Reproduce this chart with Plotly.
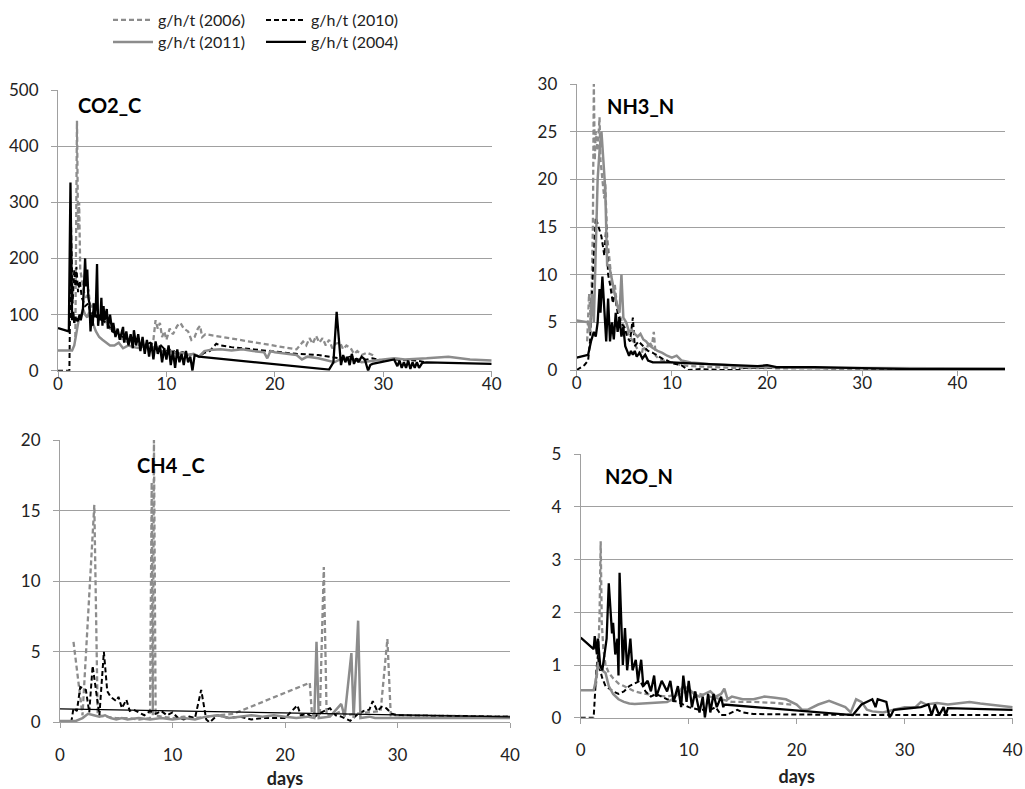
import plotly.graph_objects as go

# ---------------- DATA ----------------
series_names = ["g/h/t (2006)", "g/h/t (2010)", "g/h/t (2011)", "g/h/t (2004)"]
x_ticks = [0, 10, 20, 30, 40]

# CO2_C
co2_2006_x = [1.6, 1.75, 1.85, 1.95, 2.05, 2.2, 2.4, 2.6, 2.8, 3.0, 3.3, 3.6, 4.0, 4.4, 4.8, 5.2, 5.6, 6.0, 6.5, 7.0, 7.5, 8.0, 8.5, 8.8, 9.0, 9.2, 9.4, 9.6, 9.8, 10.0, 10.3, 10.6, 11.0, 11.3, 11.6, 12.0, 12.3, 12.6, 12.9, 13.1, 13.3, 13.6, 22.0, 22.3, 22.6, 22.9, 23.2, 23.5, 23.8, 24.1, 24.4, 24.7, 25.0, 25.3, 25.6, 26.0, 26.3, 26.6, 27.0, 27.3, 27.6, 28.0, 28.5, 29.0, 29.3]
co2_2006_y = [60, 445, 250, 300, 180, 160, 140, 130, 145, 110, 120, 100, 95, 85, 75, 70, 60, 55, 50, 55, 45, 50, 40, 55, 90, 75, 85, 60, 70, 55, 75, 65, 80, 85, 75, 70, 55, 60, 75, 80, 60, 65, 38, 45, 52, 45, 58, 48, 62, 50, 58, 45, 55, 40, 48, 50, 38, 45, 40, 30, 35, 28, 32, 28, 25]
co2_2010_x = [0, 1.05, 1.2, 1.35, 1.5, 1.6, 1.7, 1.85, 2.0, 2.2, 2.5, 2.8, 3.0, 3.3, 3.6, 4.0, 4.5, 5.0, 5.5, 6.0, 6.5, 7.0, 7.5, 8.0, 8.5, 9.0, 9.5, 10.0, 10.5, 11.0, 11.5, 12.0, 12.5, 13.0, 13.5, 14.0, 14.6, 15.0, 16.0, 18.0, 20.0, 22.0, 24.0, 25.0, 26.0, 27.0, 28.0, 28.5, 29.0, 30.0, 31.0, 33.0, 34.0]
co2_2010_y = [0, 0, 260, 120, 180, 150, 185, 140, 160, 130, 115, 120, 100, 105, 95, 90, 85, 70, 65, 60, 55, 55, 50, 45, 50, 40, 45, 35, 38, 30, 33, 28, 30, 25, 32, 35, 48, 45, 42, 38, 35, 30, 28, 25, 22, 25, 18, 20, 22, 18, 20, 18, 15]
co2_2011_x = [0, 1.3, 1.5, 1.7, 1.9, 2.1, 2.3, 2.5, 2.7, 2.9, 3.1, 3.3, 3.5, 3.8, 4.1, 4.4, 4.8, 5.2, 5.6, 6.0, 6.5, 7.0, 7.5, 8.0, 8.5, 9.0, 9.5, 10.0, 10.5, 11.0, 11.5, 12.0, 12.5, 13.0, 13.5, 14.0, 15.0, 16.0, 17.0, 18.0, 19.0, 19.3, 19.6, 20.0, 21.0, 22.0, 22.5, 23.0, 24.0, 25.0, 25.5, 26.0, 27.0, 28.0, 29.0, 30.0, 31.0, 32.0, 34.0, 36.0, 38.0, 40.0]
co2_2011_y = [36, 36, 45, 70, 90, 95, 110, 100, 95, 105, 90, 80, 70, 60, 55, 50, 45, 45, 50, 40, 45, 42, 40, 45, 38, 42, 35, 33, 35, 30, 32, 28, 30, 25, 35, 37, 38, 36, 38, 35, 33, 22, 35, 33, 30, 28, 20, 25, 22, 18, 15, 20, 22, 15, 18, 20, 22, 20, 22, 25, 20, 18]
co2_2004_x = [0, 1.0, 1.15, 1.3, 1.4, 1.5, 1.6, 1.8, 2.0, 2.1, 2.3, 2.5, 2.6, 2.7, 2.8, 2.9, 3.0, 3.1, 3.2, 3.3, 3.4, 3.5, 3.6, 3.7, 3.8, 3.9, 4.0, 4.1, 4.2, 4.3, 4.5, 4.6, 4.8, 5.0, 5.1, 5.3, 5.5, 5.7, 6.0, 6.1, 6.3, 6.5, 6.7, 6.9, 7.0, 7.2, 7.4, 7.6, 7.8, 8.0, 8.2, 8.4, 8.6, 8.8, 9.0, 9.2, 9.4, 9.6, 9.8, 10.0, 10.2, 10.4, 10.6, 10.8, 11.0, 11.2, 11.4, 11.6, 11.8, 12.0, 12.2, 12.4, 12.6, 13.0, 25.0, 25.4, 25.7, 26.0, 26.1, 26.3, 26.5, 26.7, 26.9, 27.1, 27.3, 27.5, 27.7, 28.0, 28.3, 28.6, 28.8, 29.0, 31.0, 31.3, 31.5, 31.7, 31.9, 32.1, 32.3, 32.5, 32.7, 32.9, 33.1, 33.3, 33.6, 34.0, 40.0]
co2_2004_y = [76, 70, 335, 90, 105, 85, 95, 88, 100, 90, 110, 200, 150, 180, 130, 120, 70, 100, 80, 120, 95, 120, 190, 80, 100, 90, 130, 80, 115, 90, 110, 75, 100, 70, 85, 60, 75, 55, 78, 50, 70, 45, 65, 40, 72, 45, 65, 35, 60, 30, 55, 25, 50, 20, 52, 30, 45, 15, 40, 20, 45, 10, 35, 5, 38, 15, 30, 10, 35, 15, 25, 0, 28, 25, 2, 15, 105, 30, 10, 28, 15, 25, 10, 30, 12, 22, 15, 25, 20, 0, 10, 12, 20, 8, 18, 5, 15, 5, 18, 3, 15, 5, 15, 5, 14, 15, 12]

# NH3_N
nh3_2006_x = [1.1, 1.3, 1.5, 1.7, 1.8, 1.9, 2.0, 2.2, 2.4, 2.5, 2.7, 2.9, 3.0, 3.2, 3.4, 3.6, 3.8, 4.0, 4.2, 4.4, 4.6, 4.8, 5.0, 5.3, 5.6, 5.9, 6.2, 6.5, 6.8, 7.0, 7.3, 7.6, 7.9, 8.1, 8.3, 8.6, 9, 10, 11, 12, 14, 17, 20]
nh3_2006_y = [3, 8, 5, 15, 30, 22, 25, 23, 26.5, 22, 20, 18, 19.5, 14, 12, 10, 8, 9, 7, 6, 5.5, 5, 4.5, 4, 3.5, 3, 2.5, 2, 1.5, 2.5, 2, 3, 2.5, 4, 1.5, 1.2, 1, 0.8, 0.5, 0.4, 0.3, 0.2, 0.2]
nh3_2010_x = [0, 0.8, 1.2, 1.4, 1.6, 1.8, 2.0, 2.3, 2.6, 2.9, 3.1, 3.3, 3.5, 3.8, 4.0, 4.3, 4.6, 5.0, 5.3, 5.6, 5.9, 6.1, 6.5, 7.0, 7.5, 8.0, 8.5, 9.0, 9.5, 10, 11, 11.7, 13, 15, 17, 17.5, 20, 25, 30, 35, 40, 45]
nh3_2010_y = [0, 0.5, 1, 3, 8, 12, 16, 15, 14, 12, 15, 10, 9, 7, 8, 6, 5, 4.5, 3.5, 3, 5.5, 2.5, 3, 2.5, 2, 1.8, 1.5, 1.2, 1, 0.7, 0.5, 0, 0.1, 0, 0, 0.2, 0.2, 0.2, 0.15, 0.1, 0.1, 0.1]
nh3_2011_x = [0, 1.2, 1.4, 1.6, 1.8, 2.0, 2.2, 2.4, 2.6, 2.8, 3.0, 3.2, 3.4, 3.6, 3.8, 4.0, 4.2, 4.5, 4.7, 4.9, 5.2, 5.5, 5.8, 6.1, 6.4, 6.7, 7.0, 7.3, 7.6, 8, 8.5, 9, 9.5, 10, 10.5, 11, 12, 13, 14, 16, 18, 20, 25, 30, 35, 40, 45]
nh3_2011_y = [5.2, 5, 4, 8, 5, 13, 20, 23, 25, 22, 19, 11, 11, 10, 9, 8, 7, 6, 10, 5.5, 5, 4, 4.2, 3.8, 3.5, 3.8, 3.2, 3, 2.6, 2.3, 2, 1.8, 1.5, 1.3, 1.5, 1, 0.8, 0.7, 0.6, 0.5, 0.3, 0.3, 0.2, 0.2, 0.2, 0.15, 0.15]
nh3_2004_x = [0, 1.2, 1.5, 1.8, 2.0, 2.2, 2.4, 2.5, 2.7, 2.9, 3.1, 3.3, 3.5, 3.7, 3.9, 4.1, 4.3, 4.5, 4.7, 4.9, 5.1, 5.3, 5.5, 5.7, 5.9, 6.1, 6.3, 6.6, 6.9, 7.2, 7.5, 8, 10, 12, 15, 17, 19, 20, 21, 25, 28, 30, 35, 40, 45]
nh3_2004_y = [1.3, 1.6, 3, 4, 3.5, 5, 8.5, 6, 9.8, 6, 3, 7.5, 3, 5, 3.2, 6, 4, 5.5, 3.5, 4.5, 2.5, 2, 1.5, 2, 1.6, 2, 1.4, 1.8, 1.2, 1.6, 1, 0.8, 0.8, 0.7, 0.6, 0.5, 0.4, 0.5, 0.3, 0.3, 0.2, 0.2, 0.1, 0.1, 0.1]

# CH4 _C
ch4_2006_x = [1.2, 2.0, 3.05, 3.35, 4, 5, 6, 7, 8.0, 8.15, 8.25, 8.35, 8.5, 9, 10, 11, 12, 13, 14, 15.4, 22.2, 22.4, 23.1, 23.45, 23.7, 24.5, 25, 25.5, 26.2, 27.5, 28.5, 29.1, 29.4, 30, 35, 40]
ch4_2006_y = [5.7, 0.5, 15.4, 0.5, 0.4, 0.3, 0.3, 0.2, 0.3, 17, 0.5, 20, 0.5, 0.4, 0.3, 0.4, 0.3, 0.4, 0.5, 0.6, 2.8, 0.5, 0.6, 11, 0.5, 0.6, 0.8, 0.5, 0.6, 0.7, 0.8, 5.9, 0.5, 0.5, 0.45, 0.4]
ch4_2010_x = [1.0, 1.2, 1.5, 1.8, 2.3, 2.6, 2.9, 3.2, 3.5, 3.9, 4.2, 4.5, 5.0, 5.2, 5.5, 5.9, 6.2, 6.5, 7.0, 7.5, 8.0, 8.5, 9.0, 9.5, 10.0, 10.5, 11.0, 11.5, 12.0, 12.55, 13.0, 13.3, 14, 15, 16, 17, 18, 20, 21.1, 21.4, 22, 22.5, 23, 24, 24.5, 25, 25.8, 26.5, 27, 27.5, 27.8, 28.2, 28.6, 29, 29.5, 30, 35, 40]
ch4_2010_y = [0, 1, 0.8, 2.5, 2.3, 0.7, 4.0, 2.2, 0.5, 5.0, 2.2, 1.8, 1.5, 1.8, 1.0, 1.6, 0.8, 0.9, 0.7, 0.5, 0.8, 0.6, 0.8, 0.5, 0.7, 0.3, 0.2, 0.4, 0.3, 2.3, 0.2, 0.0, 0.5, 0.3, 0.4, 0.2, 0.3, 0.3, 1.2, 0.5, 0.6, 0.3, 0.6, 1.0, 0.5, 0.4, 0.1, 0.6, 0.8, 0.9, 1.5, 0.8, 1.1, 1.0, 0.6, 0.5, 0.45, 0.4]
ch4_2011_x = [0, 1.4, 2, 2.5, 3, 3.5, 4, 4.5, 5, 5.5, 6, 7, 8, 9, 10, 11, 12, 13, 14, 15, 16, 17, 18, 19, 20, 21, 22, 22.6, 22.8, 23.0, 24, 25, 25.3, 25.9, 26.1, 26.5, 26.7, 27.5, 28, 30, 35, 40]
ch4_2011_y = [0.1, 0.1, 0.3, 0.6, 0.5, 0.4, 0.5, 0.3, 0.2, 0.3, 0.2, 0.3, 0.2, 0.3, 0.2, 0.3, 0.2, 0.4, 0.5, 0.3, 0.4, 0.5, 0.4, 0.5, 0.4, 0.3, 0.4, 0.3, 5.7, 0.3, 0.4, 1.3, 0.4, 4.9, 0.3, 7.2, 0.3, 0.4, 0.3, 0.3, 0.3, 0.3]
ch4_2004_x = [0, 40]
ch4_2004_y = [0.95, 0.38]

# N2O_N
n2o_2006_x = [1.4, 1.6, 1.75, 1.85, 1.95, 2.1, 2.3, 2.6, 3.0, 3.5, 4.0, 5.0, 6.0, 7.0, 8.0, 9.0, 10.0, 11.0, 12.0, 13.0, 14.0, 16.0, 18.0, 19.5]
n2o_2006_y = [0.6, 1.0, 2.0, 3.35, 1.8, 1.3, 1.0, 0.85, 0.75, 0.65, 0.6, 0.5, 0.45, 0.42, 0.4, 0.45, 0.5, 0.45, 0.4, 0.35, 0.3, 0.3, 0.28, 0.25]
n2o_2010_x = [0, 1.2, 1.45, 1.6, 1.8, 2.0, 2.3, 2.6, 3.0, 3.5, 4.0, 4.5, 5.0, 5.5, 6.0, 6.5, 7.0, 7.5, 8, 9, 10, 11, 12, 12.5, 13, 13.5, 14.5, 15, 16, 20, 25, 30, 35, 40]
n2o_2010_y = [0, 0, 0.9, 1.2, 0.9, 0.75, 0.6, 0.55, 0.5, 0.45, 0.5, 0.6, 0.65, 0.7, 0.5, 0.4, 0.45, 0.4, 0.35, 0.3, 0.2, 0.15, 0.15, 0.2, 0.05, 0.05, 0.15, 0.1, 0.07, 0.06, 0.05, 0.05, 0.05, 0.05]
n2o_2011_x = [0, 1.2, 1.4, 1.6, 1.8, 2.0, 2.3, 2.6, 3.0, 3.5, 4.0, 4.5, 5.0, 6, 7, 8, 8.5, 9, 9.5, 10, 10.5, 11, 11.5, 12, 12.5, 13, 13.3, 13.6, 14, 15, 16, 17, 18, 19, 20, 20.5, 21, 22, 23, 24, 24.5, 25, 25.5, 26, 26.5, 27, 28, 29, 30, 31, 31.5, 32, 33, 34, 35, 36, 37, 38, 39, 40]
n2o_2011_y = [0.52, 0.52, 0.7, 1.05, 0.95, 0.9, 0.85, 0.6, 0.45, 0.35, 0.3, 0.27, 0.26, 0.27, 0.28, 0.3, 0.35, 0.45, 0.6, 0.55, 0.45, 0.4, 0.45, 0.5, 0.4, 0.45, 0.55, 0.35, 0.4, 0.35, 0.35, 0.4, 0.38, 0.35, 0.25, 0.15, 0.15, 0.25, 0.32, 0.25, 0.2, 0.1, 0.35, 0.3, 0.15, 0.12, 0.1, 0.15, 0.2, 0.2, 0.3, 0.25, 0.28, 0.25, 0.28, 0.3, 0.27, 0.25, 0.22, 0.2]
n2o_2004_x = [0, 1.2, 1.3, 1.5, 1.6, 1.8, 2.0, 2.4, 2.6, 2.9, 3.0, 3.2, 3.4, 3.5, 3.6, 3.9, 4.1, 4.3, 4.6, 4.8, 5.1, 5.3, 5.6, 5.8, 6.2, 6.5, 6.8, 7.0, 7.5, 8.0, 8.3, 8.6, 9.0, 9.3, 9.5, 9.8, 10.0, 10.3, 10.6, 11.0, 11.3, 11.5, 11.8, 12.0, 12.3, 12.6, 13.0, 13.2, 13.3, 25.2, 26.0, 27.0, 27.3, 27.5, 28.3, 28.6, 29.0, 31.5, 32.2, 32.5, 32.8, 33.2, 33.6, 33.8, 34.0, 40.0]
n2o_2004_y = [1.52, 1.3, 1.55, 1.2, 1.5, 1.0, 0.9, 1.5, 2.55, 1.6, 1.8, 1.2, 1.5, 0.8, 2.75, 1.0, 1.7, 0.9, 1.5, 0.9, 1.1, 0.7, 1.1, 0.6, 0.7, 0.5, 0.8, 0.4, 0.7, 0.5, 0.7, 0.3, 0.6, 0.2, 0.8, 0.3, 0.7, 0.2, 0.5, 0.1, 0.4, 0.0, 0.45, 0.1, 0.45, 0.2, 0.4, 0.2, 0.25, 0.05, 0.25, 0.35, 0.2, 0.35, 0.3, 0.0, 0.15, 0.2, 0.25, 0.05, 0.25, 0.05, 0.2, 0.05, 0.18, 0.15]

# ---------------- STYLE ----------------
GRAY = "#8c8c8c"
BLACK = "#000000"
DASH = "5px,3px"
styles = {
    "2006": dict(color=GRAY, dash=DASH, width=2.3),
    "2010": dict(color=BLACK, dash=DASH, width=2.0),
    "2011": dict(color=GRAY, dash="solid", width=2.5),
    "2004": dict(color=BLACK, dash="solid", width=2.3),
}
FONT = "Lato, 'Open Sans', sans-serif"
TICK_SIZE = 17

W, H = 1025, 789

def px_x(p):
    return p / W

def px_y(p):
    return 1 - p / H

panels = [
    dict(n="", dx=(58, 491.7), dy=(90, 370.7), yr=[0, 500], ydt=100, xr=[0, 40], title="CO2_C", tx=76, ty=105,
         data={"2006": (co2_2006_x, co2_2006_y), "2010": (co2_2010_x, co2_2010_y),
               "2011": (co2_2011_x, co2_2011_y), "2004": (co2_2004_x, co2_2004_y)}, bottom=False, stand=0),
    dict(n="2", dx=(576.7, 1005), dy=(84, 370), yr=[0, 30], ydt=5, xr=[0, 45], title="NH3_N", tx=605, ty=106,
         data={"2006": (nh3_2006_x, nh3_2006_y), "2010": (nh3_2010_x, nh3_2010_y),
               "2011": (nh3_2011_x, nh3_2011_y), "2004": (nh3_2004_x, nh3_2004_y)}, bottom=False, stand=0),
    dict(n="3", dx=(60, 510), dy=(440, 722.3), yr=[0, 20], ydt=5, xr=[0, 40], title="CH4 _C", tx=135, ty=465,
         data={"2006": (ch4_2006_x, ch4_2006_y), "2010": (ch4_2010_x, ch4_2010_y),
               "2011": (ch4_2011_x, ch4_2011_y), "2004": (ch4_2004_x, ch4_2004_y)}, bottom=True, stand=17),
    dict(n="4", dx=(580.7, 1012.7), dy=(454.3, 717.7), yr=[0, 5], ydt=1, xr=[0, 40], title="N2O_N", tx=603, ty=476,
         data={"2006": (n2o_2006_x, n2o_2006_y), "2010": (n2o_2010_x, n2o_2010_y),
               "2011": (n2o_2011_x, n2o_2011_y), "2004": (n2o_2004_x, n2o_2004_y)}, bottom=True, stand=11),
]

fig = go.Figure()
order = ["2006", "2010", "2011", "2004"]
legend_of = {"2006": "legend", "2010": "legend", "2011": "legend2", "2004": "legend2"}
annotations = []

for i, p in enumerate(panels):
    xa = "x" + p["n"]
    ya = "y" + p["n"]
    for k, name in zip(order, series_names):
        xs, ys = p["data"][k]
        st = dict(styles[k])
        if p["title"] == "CH4 _C" and k == "2004":
            st["width"] = 1.3
        fig.add_trace(go.Scatter(
            x=xs, y=ys, mode="lines", name=name, xaxis=xa, yaxis=ya,
            line=st, showlegend=(i == 0), legend=legend_of[k],
        ))
    common_x = dict(
        domain=[px_x(p["dx"][0]), px_x(p["dx"][1])], range=p["xr"], tickvals=x_ticks,
        showgrid=False, zeroline=False, showline=True, linecolor="#a0a0a0", linewidth=1,
        ticks="outside", ticklen=5, tickcolor="#a0a0a0", automargin=False,
        tickfont=dict(family=FONT, size=TICK_SIZE, color="#222"),
        anchor=ya,
    )
    if p["bottom"]:
        common_x["ticklabelstandoff"] = 12
        common_x["title"] = dict(text="<b>days</b>", font=dict(family=FONT, size=18, color="#222"),
                                 standoff=p["stand"])
    else:
        common_x["ticklabelstandoff"] = -7
    common_y = dict(
        domain=[px_y(p["dy"][1]), px_y(p["dy"][0])], range=p["yr"], dtick=p["ydt"], tick0=0,
        showgrid=True, gridcolor="#a0a0a0", gridwidth=1, zeroline=False,
        showline=True, linecolor="#a0a0a0", linewidth=1, automargin=False,
        ticks="outside", ticklen=6, tickcolor="#a0a0a0", ticklabelstandoff=9,
        tickfont=dict(family=FONT, size=TICK_SIZE, color="#222"),
        anchor=xa,
    )
    fig.update_layout(**{("xaxis" + p["n"]): common_x, ("yaxis" + p["n"]): common_y})
    annotations.append(dict(
        text="<b>" + p["title"] + "</b>", xref="paper", yref="paper",
        x=px_x(p["tx"]), y=px_y(p["ty"]), xanchor="left", yanchor="middle",
        showarrow=False, font=dict(family=FONT, size=20, color="#000"),
    ))

leg_common = dict(orientation="h", xanchor="left", yanchor="middle",
                  xref="container", yref="container",
                  font=dict(family=FONT, size=16, color="#222"),
                  entrywidth=98, entrywidthmode="pixels", bgcolor="rgba(0,0,0,0)",
                  itemwidth=40, tracegroupgap=0)
fig.update_layout(
    width=W, height=H,
    margin=dict(l=0, r=0, t=0, b=0, autoexpand=False),
    paper_bgcolor="white", plot_bgcolor="white",
    legend=dict(x=px_x(108), y=px_y(20), **leg_common),
    legend2=dict(x=px_x(108), y=px_y(42), **leg_common),
    annotations=annotations,
)

fig.write_html("out.html", config={"displayModeBar": False},
               post_script="document.body.style.margin='0px';")
